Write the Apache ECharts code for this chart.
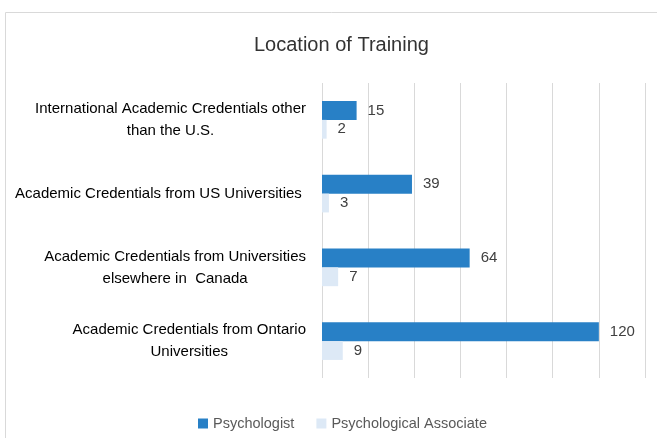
<!DOCTYPE html>
<html><head><meta charset="utf-8">
<script src="https://cdn.jsdelivr.net/npm/echarts@6/dist/echarts.min.js"></script>
<style>html,body{margin:0;padding:0;background:#fff}#c{width:657px;height:438px}</style>
</head><body><div id="c"></div>
<script>
const categories = [
  "International Academic Credentials other\nthan the U.S.",
  "Academic Credentials from US Universities ",
  "Academic Credentials from Universities\nelsewhere in  Canada",
  "Academic Credentials from Ontario\nUniversities"
];
const psychologist = [15, 39, 64, 120];
const associate = [2, 3, 7, 9];
const seriesNames = ["Psychologist", "Psychological Associate"];
const xTicks = [0, 20, 40, 60, 80, 100, 120, 140];

const FONT = "Liberation Sans";
const chart = echarts.init(document.getElementById('c'));
chart.setOption({
  animation: false,
  textStyle: {fontFamily: FONT},
  graphic: [{type: 'rect', shape: {x: 5.5, y: 12.5, width: 700, height: 500}, style: {fill: null, stroke: '#d9d9d9', lineWidth: 1}, silent: true, z: -10}],
  title: {text: "Location of Training", left: 249, top: 30,
    textStyle: {fontFamily: FONT, fontSize: 20, fontWeight: 'normal', color: '#333333'}},
  legend: {data: seriesNames, top: 411, left: 193, itemWidth: 10, itemHeight: 10, itemGap: 22, icon: 'rect',
    textStyle: {fontFamily: FONT, fontSize: 14.5, color: '#595959'}},
  grid: {left: 322, right: 12, top: 83, bottom: 60},
  xAxis: {type: 'value', min: xTicks[0], max: xTicks[xTicks.length - 1], interval: 20,
    axisLabel: {show: false}, axisLine: {show: false}, axisTick: {show: false},
    splitLine: {lineStyle: {color: '#d9d9d9'}}},
  yAxis: {type: 'category', data: categories, inverse: true,
    axisLine: {show: false}, axisTick: {show: false},
    axisLabel: {margin: 16, align: 'right',
      formatter: v => v.split('\n').map(s => '{c|' + s + '}').join('\n'),
      rich: {c: {align: 'center', fontFamily: FONT, fontSize: 15, lineHeight: 22, color: '#000000'}}}},
  series: [
    {name: seriesNames[0], type: 'bar', data: psychologist, barGap: '0%', barCategoryGap: '49%',
      itemStyle: {color: '#2880c6'},
      label: {show: true, position: 'right', distance: 11, fontFamily: FONT, fontSize: 15, color: '#404040'}},
    {name: seriesNames[1], type: 'bar', data: associate, barGap: '0%', barCategoryGap: '49%',
      itemStyle: {color: '#dde9f6'},
      label: {show: true, position: 'right', distance: 11, fontFamily: FONT, fontSize: 15, color: '#404040'}}
  ]
});
</script></body></html>
